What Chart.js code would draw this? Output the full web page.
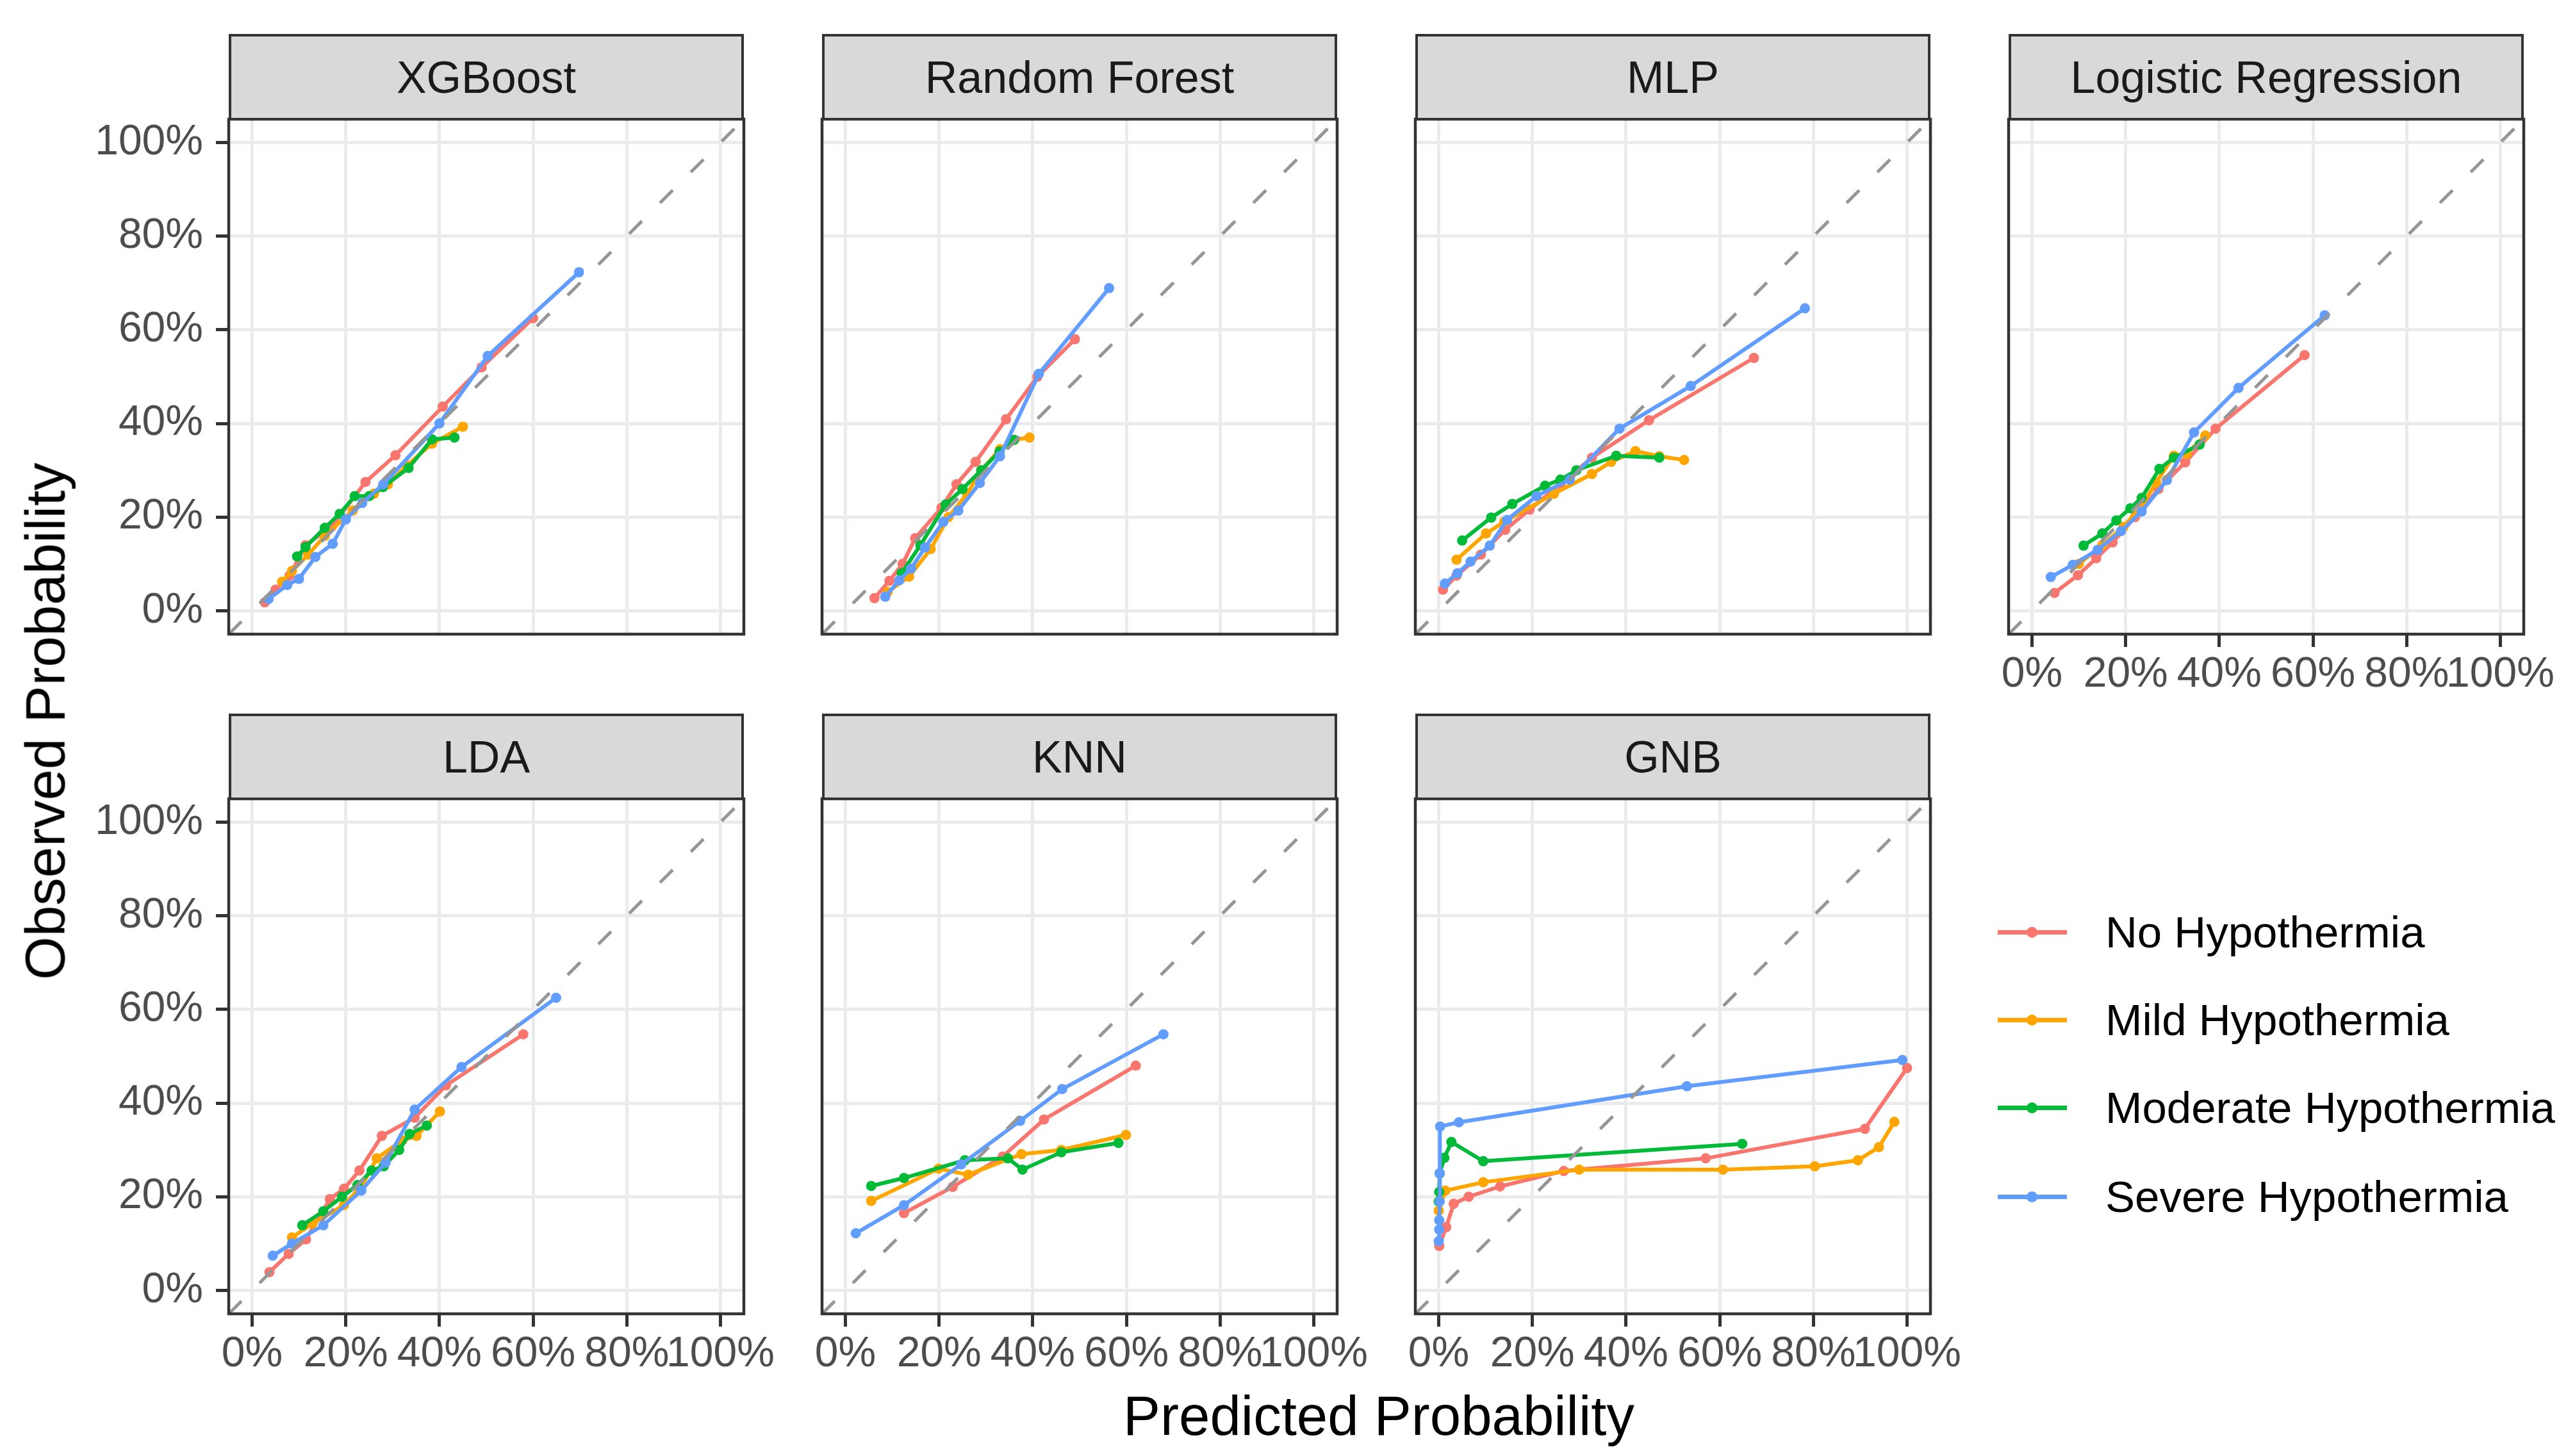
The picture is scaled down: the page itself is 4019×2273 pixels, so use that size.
<!DOCTYPE html>
<html>
<head>
<meta charset="utf-8">
<script src="https://cdn.jsdelivr.net/npm/chart.js@4.4.0/dist/chart.umd.min.js"></script>
<style>
html, body { margin: 0; padding: 0; background: #fff; }
body { width: 4019px; height: 2273px; position: relative; overflow: hidden; font-family: "Liberation Sans", Arial, sans-serif; }
canvas { position: absolute; }
.strip { position: absolute; box-sizing: border-box; background: #d9d9d9; border: 4px solid #333; color: #1a1a1a;
         font-size: 70px; display: flex; align-items: center; justify-content: center; }
.title { position: absolute; font-size: 87px; line-height: 87px; color: #000; white-space: nowrap; }
.leg-item { position: absolute; left: 3118px; height: 100px; width: 890px; }
.leg-line { position: absolute; left: 0; top: 46px; width: 108px; height: 7px; }
.leg-dot { position: absolute; left: 45px; top: 41px; width: 17px; height: 17px; border-radius: 50%; }
.leg-text { position: absolute; left: 168px; top: 0; line-height: 100px; font-size: 69px; color: #000; white-space: nowrap; }
</style>
</head>
<body>
<script>
// tick positions and labels
var tickVals = [0, 0.2, 0.4, 0.6, 0.8, 1];
var classNames = ['No Hypothermia', 'Mild Hypothermia', 'Moderate Hypothermia', 'Severe Hypothermia'];
var classColors = ['#F8766D', '#FFA500', '#00BA38', '#619CFF'];
var modelNames = ['XGBoost', 'Random Forest', 'MLP', 'Logistic Regression', 'LDA', 'KNN', 'GNB'];

// [predicted, observed] pairs
var xgbNo   = [[0.027,0.018],[0.05,0.045],[0.08,0.075],[0.114,0.14],[0.17,0.18],[0.242,0.275],[0.306,0.332],[0.407,0.436],[0.49,0.52],[0.6,0.625]];
var xgbMild = [[0.064,0.062],[0.085,0.085],[0.12,0.12],[0.155,0.16],[0.215,0.214],[0.26,0.25],[0.29,0.27],[0.33,0.31],[0.384,0.357],[0.45,0.393]];
var xgbMod  = [[0.096,0.116],[0.114,0.136],[0.155,0.177],[0.187,0.207],[0.219,0.245],[0.25,0.245],[0.279,0.264],[0.334,0.305],[0.384,0.366],[0.432,0.37]];
var xgbSev  = [[0.035,0.025],[0.075,0.055],[0.1,0.068],[0.135,0.115],[0.172,0.143],[0.2,0.195],[0.235,0.23],[0.28,0.27],[0.4,0.40],[0.503,0.544],[0.698,0.723]];

var rfNo   = [[0.062,0.027],[0.094,0.064],[0.122,0.10],[0.149,0.155],[0.205,0.22],[0.237,0.27],[0.278,0.318],[0.343,0.409],[0.41,0.50],[0.49,0.58]];
var rfMild = [[0.09,0.04],[0.136,0.073],[0.182,0.132],[0.22,0.20],[0.26,0.25],[0.29,0.30],[0.33,0.345],[0.36,0.365],[0.393,0.37]];
var rfMod  = [[0.12,0.08],[0.16,0.14],[0.214,0.227],[0.25,0.26],[0.29,0.30],[0.329,0.34],[0.36,0.365]];
var rfSev  = [[0.085,0.03],[0.115,0.065],[0.14,0.09],[0.17,0.135],[0.209,0.19],[0.241,0.214],[0.287,0.273],[0.33,0.33],[0.413,0.506],[0.563,0.689]];

var mlpNo   = [[0.009,0.045],[0.038,0.075],[0.09,0.12],[0.142,0.173],[0.194,0.216],[0.26,0.27],[0.327,0.327],[0.449,0.407],[0.673,0.54]];
var mlpMild = [[0.038,0.109],[0.101,0.165],[0.14,0.19],[0.246,0.25],[0.327,0.292],[0.368,0.318],[0.42,0.341],[0.471,0.33],[0.524,0.322]];
var mlpMod  = [[0.05,0.15],[0.112,0.199],[0.157,0.228],[0.227,0.267],[0.26,0.28],[0.294,0.30],[0.379,0.331],[0.471,0.327]];
var mlpSev  = [[0.013,0.058],[0.04,0.08],[0.068,0.105],[0.109,0.139],[0.146,0.194],[0.209,0.245],[0.28,0.28],[0.386,0.389],[0.538,0.48],[0.782,0.646]];

var lrNo   = [[0.048,0.038],[0.098,0.076],[0.137,0.112],[0.172,0.146],[0.22,0.20],[0.27,0.26],[0.327,0.317],[0.392,0.389],[0.582,0.546]];
var lrMild = [[0.10,0.10],[0.15,0.14],[0.195,0.179],[0.235,0.225],[0.265,0.274],[0.303,0.331],[0.33,0.335],[0.37,0.374]];
var lrMod  = [[0.11,0.139],[0.15,0.165],[0.18,0.193],[0.21,0.219],[0.234,0.241],[0.272,0.303],[0.303,0.327],[0.358,0.355]];
var lrSev  = [[0.04,0.072],[0.087,0.098],[0.14,0.13],[0.19,0.17],[0.234,0.212],[0.288,0.279],[0.346,0.381],[0.441,0.476],[0.625,0.631]];

var ldaNo   = [[0.037,0.039],[0.078,0.078],[0.115,0.109],[0.166,0.195],[0.196,0.217],[0.229,0.256],[0.277,0.33],[0.347,0.369],[0.414,0.438],[0.579,0.547]];
var ldaMild = [[0.085,0.113],[0.129,0.143],[0.196,0.182],[0.235,0.225],[0.266,0.282],[0.32,0.32],[0.351,0.33],[0.401,0.382]];
var ldaMod  = [[0.107,0.139],[0.152,0.169],[0.192,0.20],[0.225,0.225],[0.255,0.256],[0.281,0.265],[0.314,0.30],[0.336,0.334],[0.373,0.352]];
var ldaSev  = [[0.044,0.074],[0.085,0.10],[0.152,0.139],[0.233,0.213],[0.285,0.273],[0.347,0.386],[0.447,0.477],[0.649,0.625]];

var knnNo   = [[0.125,0.165],[0.229,0.221],[0.336,0.286],[0.424,0.365],[0.62,0.48]];
var knnMild = [[0.055,0.191],[0.199,0.26],[0.262,0.247],[0.376,0.291],[0.461,0.30],[0.599,0.332]];
var knnMod  = [[0.055,0.223],[0.125,0.24],[0.255,0.278],[0.347,0.282],[0.378,0.258],[0.461,0.295],[0.583,0.315]];
var knnSev  = [[0.022,0.122],[0.125,0.182],[0.247,0.269],[0.373,0.362],[0.463,0.43],[0.679,0.547]];

var gnbNo   = [[0.001,0.095],[0.016,0.135],[0.032,0.185],[0.064,0.2],[0.131,0.222],[0.267,0.255],[0.57,0.282],[0.91,0.345],[1.0,0.475]];
var gnbMild = [[0.0,0.17],[0.014,0.213],[0.095,0.231],[0.30,0.258],[0.607,0.258],[0.803,0.265],[0.895,0.278],[0.94,0.306],[0.973,0.36]];
var gnbMod  = [[0.0,0.19],[0.001,0.21],[0.002,0.25],[0.012,0.283],[0.027,0.317],[0.095,0.276],[0.648,0.313]];
var gnbSev  = [[0.0,0.105],[0.001,0.13],[0.001,0.15],[0.002,0.19],[0.002,0.25],[0.003,0.35],[0.043,0.359],[0.53,0.436],[0.99,0.492]];

var panelSeries = [
    [xgbNo, xgbMild, xgbMod, xgbSev],
    [rfNo, rfMild, rfMod, rfSev],
    [mlpNo, mlpMild, mlpMod, mlpSev],
    [lrNo, lrMild, lrMod, lrSev],
    [ldaNo, ldaMild, ldaMod, ldaSev],
    [knnNo, knnMild, knnMod, knnSev],
    [gnbNo, gnbMild, gnbMod, gnbSev]
];

// layout (page pixels)
var colLeft = [357, 1283, 2209, 3135];
var rowTop = [186, 1247];
var panelSize = 804;
var stripH = 133;
var padL = 330, padT = 40, padR = 90, padB = 160;
var fontFam = '"Liberation Sans", Arial, sans-serif';

var panelBox = {
    id: 'panelBox',
    beforeDraw: function (chart) {
        var a = chart.chartArea, c = chart.ctx;
        c.save();
        c.fillStyle = '#ffffff';
        c.fillRect(a.left, a.top, a.right - a.left, a.bottom - a.top);
        c.restore();
    },
    afterDraw: function (chart) {
        var a = chart.chartArea, c = chart.ctx;
        c.save();
        c.strokeStyle = '#333333';
        c.lineWidth = 4.5;
        c.strokeRect(a.left, a.top, a.right - a.left, a.bottom - a.top);
        c.restore();
    }
};

function axisOpts(showLabels, isX) {
    return {
        type: 'linear',
        min: -0.05,
        max: 1.05,
        afterBuildTicks: function (s) { s.ticks = tickVals.map(function (v) { return { value: v }; }); },
        afterFit: function (s) {
            if (isX) s.height = padB; else s.width = padL;
            s.paddingLeft = 0; s.paddingRight = 0; s.paddingTop = 0; s.paddingBottom = 0;
        },
        border: { display: false },
        grid: {
            color: '#ebebeb', lineWidth: 5,
            drawTicks: showLabels, tickLength: 20, tickWidth: 5, tickColor: '#333333'
        },
        ticks: {
            display: showLabels,
            padding: isX ? 4 : 20,
            autoSkip: false, maxRotation: 0, minRotation: 0,
            color: '#4d4d4d',
            font: { family: fontFam, size: 66 },
            callback: function (v) { return Math.round(v * 100) + '%'; }
        }
    };
}

function makePanel(i) {
    var col = i < 4 ? i : i - 4;
    var row = i < 4 ? 0 : 1;
    var left = colLeft[col], top = rowTop[row];
    var showX = (row === 1) || (i === 3);
    var showY = (col === 0);

    var cv = document.createElement('canvas');
    cv.width = padL + panelSize + padR;
    cv.height = padT + panelSize + padB;
    cv.style.left = (left - padL) + 'px';
    cv.style.top = (top - padT) + 'px';
    cv.style.width = cv.width + 'px';
    cv.style.height = cv.height + 'px';
    document.body.appendChild(cv);

    var datasets = [{
        data: [{ x: -0.05, y: -0.05 }, { x: 1.05, y: 1.05 }],
        showLine: true, borderColor: '#969696', borderWidth: 5, borderDash: [28, 40],
        pointRadius: 0, clip: 0, order: 0
    }];
    panelSeries[i].forEach(function (pts, k) {
        datasets.push({
            label: classNames[k],
            data: pts.map(function (p) { return { x: p[0], y: p[1] }; }),
            showLine: true,
            borderColor: classColors[k], backgroundColor: classColors[k],
            pointBackgroundColor: classColors[k], pointBorderWidth: 0,
            borderWidth: 6, pointRadius: 8,
            clip: 0, order: 4 - k
        });
    });

    new Chart(cv, {
        type: 'scatter',
        data: { datasets: datasets },
        options: {
            responsive: false, animation: false, devicePixelRatio: 1, events: [],
            layout: { padding: { left: 0, top: padT, right: padR, bottom: 0 }, autoPadding: false },
            plugins: { legend: { display: false }, tooltip: { enabled: false } },
            scales: { x: axisOpts(showX, true), y: axisOpts(showY, false) }
        },
        plugins: [panelBox]
    });

    var st = document.createElement('div');
    st.className = 'strip';
    st.style.left = left + 'px';
    st.style.top = (top - stripH) + 'px';
    st.style.width = panelSize + 'px';
    st.style.height = (stripH + 2) + 'px';
    st.textContent = modelNames[i];
    document.body.appendChild(st);
}

for (var i = 0; i < modelNames.length; i++) makePanel(i);

// axis titles
var xt = document.createElement('div');
xt.className = 'title';
xt.textContent = 'Predicted Probability';
xt.style.left = '2152px';
xt.style.top = '2166px';
xt.style.transform = 'translateX(-50%)';
document.body.appendChild(xt);

var yt = document.createElement('div');
yt.className = 'title';
yt.textContent = 'Observed Probability';
yt.style.left = '70px';
yt.style.top = '1126px';
yt.style.transform = 'translate(-50%, -50%) rotate(-90deg)';
document.body.appendChild(yt);

// legend
var legendY = [1456, 1593, 1730, 1869];
classNames.forEach(function (name, k) {
    var it = document.createElement('div');
    it.className = 'leg-item';
    it.style.top = (legendY[k] - 50) + 'px';
    it.innerHTML = '<div class="leg-line" style="background:' + classColors[k] + '"></div>' +
        '<div class="leg-dot" style="background:' + classColors[k] + '"></div>' +
        '<div class="leg-text">' + name + '</div>';
    document.body.appendChild(it);
});
</script>
</body>
</html>
